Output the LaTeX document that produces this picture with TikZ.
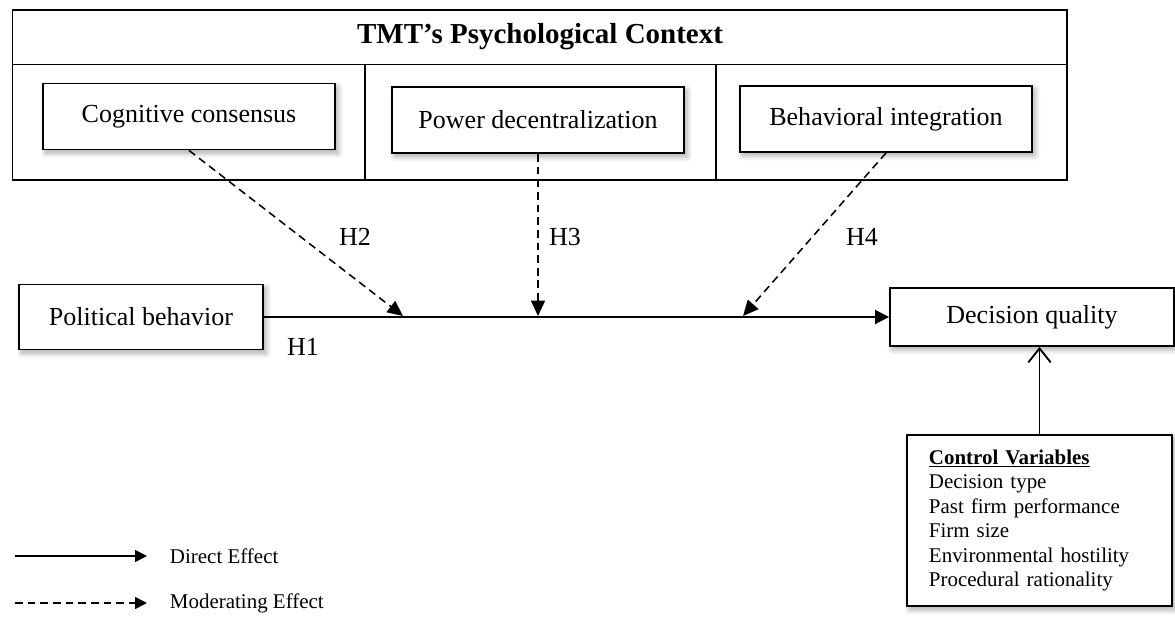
\documentclass[tikz,border=0pt]{standalone}
\usepackage{fontspec}
\setmainfont{Liberation Serif}
\usetikzlibrary{arrows.meta,shadows.blur}

\tikzset{
  box/.style={draw, line width=1.3pt, fill=white, align=center,
    font=\fontsize{18.5}{22}\selectfont,
    blur shadow={shadow xshift=2pt, shadow yshift=-2.5pt, shadow blur radius=4pt, shadow blur steps=12, shadow opacity=35}},
  frame/.style={line width=1.3pt},
  direct/.style={line width=1.3pt, -{Triangle[length=10pt,width=10pt]}},
  moder/.style={line width=1.1pt, dash pattern=on 5.5pt off 3.5pt, -{Triangle[length=11pt,width=10pt]}},
  hlab/.style={font=\fontsize{18.5}{22}\selectfont},
  leg/.style={anchor=west, font=\fontsize{14.9}{17.4}\selectfont},
}

\begin{document}
\begin{tikzpicture}[x=0.025cm, y=-0.025cm]
\useasboundingbox (0,0) rectangle (1175,624);

% context frame
\draw [frame] (12.5,10) rectangle (1067,180);
\draw [frame] (12.5,64.5) -- (1067,64.5);
\draw [frame] (365,64.5) -- (365,180);
\draw [frame] (716,64.5) -- (716,180);
\node (tmt) [font=\fontsize{20.6}{24}\selectfont\bfseries] at (540,37) {TMT’s Psychological Context};

\node (cog) [box, minimum width=7.3cm, minimum height=1.65cm] at (189,116.5) {Cognitive consensus};
\node (pow) [box, minimum width=7.3cm, minimum height=1.65cm] at (538,120) {Power decentralization};
\node (beh) [box, minimum width=7.3cm, minimum height=1.65cm] at (886,119) {Behavioral integration};
\node (pol) [box, minimum width=6.1cm, minimum height=1.625cm] at (141,317) {Political behavior};
\node (dq) [box, minimum width=7.1cm, minimum height=1.45cm] at (1032,317) {Decision quality};
\node (ctrl) [box, align=left, text width=5.525cm, inner xsep=0.55cm, minimum height=4.275cm,
  font=\fontsize{14.9}{17.4}\selectfont] at (1039.5,520.5)
  {\underline{\textbf{Control Variables}}\\Decision type\\Past firm performance\\Firm size\\Environmental hostility\\Procedural rationality};

\draw [direct] (pol) -- (dq);
\draw [line width=1.3pt, -{Straight Barb[length=10pt,width=16pt,line width=1.3pt]}] (ctrl.north) -- (ctrl.north |- dq.south);

% moderators
\coordinate (m2) at (403,316);
\coordinate (m3) at (538,316);
\coordinate (m4) at (743,316);
\draw [moder] (cog.south) -- (m2);
\draw [moder] (pow.south) -- (m3);
\draw [moder] (beh.south) -- (m4);

\node (h1) [hlab] at (303,347) {H1};
\node (h2) [hlab] at (355,237) {H2};
\node (h3) [hlab] at (565,237) {H3};
\node (h4) [hlab] at (862,237) {H4};

% legend
\coordinate (d0) at (15,556);
\coordinate (e0) at (15,603);
\node (dlab) [leg] at (165,556) {Direct Effect};
\node (elab) [leg] at (165,603) {Moderating Effect};
\draw [line width=1.1pt, -{Triangle[length=8.5pt,width=8.5pt]}, shorten >=0.45cm] (d0) -- (dlab.west);
\draw [line width=1.1pt, dash pattern=on 5.5pt off 3.5pt, -{Triangle[length=8.5pt,width=8.5pt]}, shorten >=0.45cm] (e0) -- (elab.west);
\end{tikzpicture}
\end{document}
